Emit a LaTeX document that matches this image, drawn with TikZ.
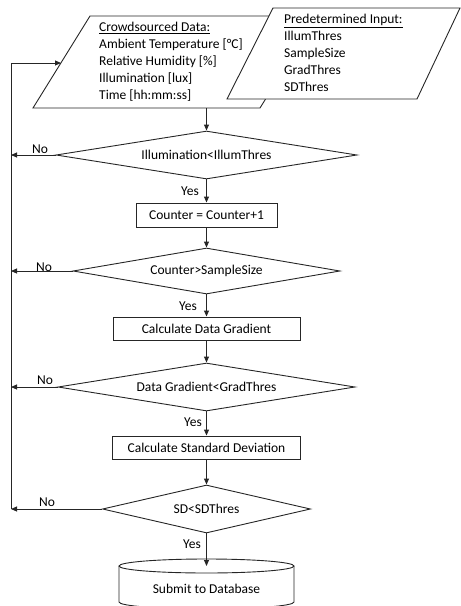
\documentclass[tikz,border=0pt]{standalone}
\usepackage{fontspec}
\setmainfont{Carlito}
\usetikzlibrary{shapes.geometric,arrows.meta}
\newcommand\flowfont{\fontsize{13.5}{17}\selectfont\lineskiplimit -20pt\relax}
\begin{document}
\begin{tikzpicture}[x=1pt,y=-1pt,
  every node/.style={font=\flowfont},
  ln/.style={line width=0.9pt, draw=black!85},
  arr/.style={ln, -{Triangle[length=6pt,width=5pt]}},
  dec/.style={diamond, ln, aspect=8, inner sep=0pt},
  proc/.style={rectangle, ln, inner sep=0pt},
  lbl/.style={inner sep=0pt}
]
\useasboundingbox (0,0) rectangle (461,606);
% input parallelograms
\draw[ln] (33,108) -- (90,16) -- (317,16) -- (260,108) -- cycle;
\node[lbl, anchor=north west, align=left] (crowdtxt) at (99,22)
  {\underline{Crowdsourced Data:}\\Ambient Temperature [°C]\\Relative Humidity [\%]\\Illumination [lux]\\Time [hh:mm:ss]};
\draw[ln, fill=white] (227,99) -- (273,8) -- (460,8) -- (417,99) -- cycle;
\node[lbl, anchor=north west, align=left] (predtxt) at (284,14)
  {\underline{Predetermined Input:}\\IllumThres\\SampleSize\\GradThres\\SDThres};
\coordinate (crowdout) at (206.5,108);
% decisions and processes
\node[dec, minimum width=301pt, minimum height=48pt] (d1) at (206.5,155) {Illumination<IllumThres};
\node[proc, minimum width=141pt, minimum height=24pt] (b1) at (206.5,215) {Counter = Counter+1};
\node[dec, minimum width=267pt, minimum height=46pt] (d2) at (206.5,271) {Counter>SampleSize};
\node[proc, minimum width=187pt, minimum height=23pt] (b2) at (206.5,328.5) {Calculate Data Gradient};
\node[dec, minimum width=297pt, minimum height=48pt] (d3) at (206.5,387) {Data Gradient<GradThres};
\node[proc, minimum width=188pt, minimum height=23pt] (b3) at (206.5,447.5) {Calculate Standard Deviation};
\node[dec, minimum width=208pt, minimum height=48pt] (d4) at (206.5,509) {SD<SDThres};
% database cylinder
\draw[ln] (119,566) -- (119,602) arc[start angle=180, end angle=0, x radius=87.5, y radius=7] -- (294,566);
\draw[ln] (206.5,566) ellipse[x radius=87.5, y radius=7];
\coordinate (dbtop) at (206.5,566);
\node[lbl] (db) at (206.5,589) {Submit to Database};
% main flow
\draw[arr] (crowdout) -- (d1.north);
\draw[arr] (d1.south) -- (b1.north);
\draw[arr] (b1.south) -- (d2.north);
\draw[arr] (d2.south) -- (b2.north);
\draw[arr] (b2.south) -- (d3.north);
\draw[arr] (d3.south) -- (b3.north);
\draw[arr] (b3.south) -- (d4.north);
\draw[arr] (d4.south) -- (dbtop);
% feedback loop
\coordinate (loopbot) at (11,509);
\coordinate (looptop) at (11,63);
\coordinate (inpt) at (61,63);
\draw[arr] (d1.west) -- (d1.west -| loopbot);
\draw[arr] (d2.west) -- (d2.west -| loopbot);
\draw[arr] (d3.west) -- (d3.west -| loopbot);
\draw[arr] (d4.west) -- (d4.west -| loopbot);
\draw[arr] (loopbot) -- (looptop) -- (inpt);
% labels
\node[lbl] (no1) at (40,149) {No};
\node[lbl] (no2) at (44,267) {No};
\node[lbl] (no3) at (45,380) {No};
\node[lbl] (no4) at (47,502) {No};
\node[lbl] (yes1) at (190,191) {Yes};
\node[lbl] (yes2) at (188,306) {Yes};
\node[lbl] (yes3) at (193,422) {Yes};
\node[lbl] (yes4) at (192,544) {Yes};
\end{tikzpicture}
\end{document}
